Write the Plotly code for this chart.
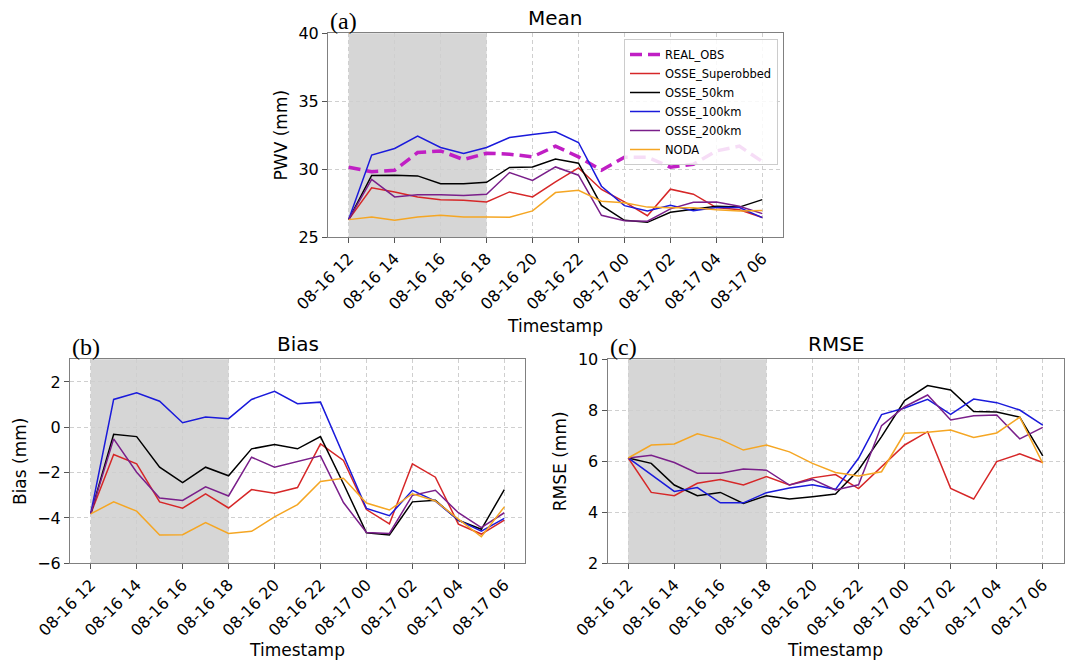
import plotly.graph_objects as go

# ---------------- data ----------------
timestamps = [
    "2024-08-16 12:00", "2024-08-16 13:00", "2024-08-16 14:00", "2024-08-16 15:00",
    "2024-08-16 16:00", "2024-08-16 17:00", "2024-08-16 18:00", "2024-08-16 19:00",
    "2024-08-16 20:00", "2024-08-16 21:00", "2024-08-16 22:00", "2024-08-16 23:00",
    "2024-08-17 00:00", "2024-08-17 01:00", "2024-08-17 02:00", "2024-08-17 03:00",
    "2024-08-17 04:00", "2024-08-17 05:00", "2024-08-17 06:00",
]

series_names = ["OSSE_Superobbed", "OSSE_50km", "OSSE_100km", "OSSE_200km", "NODA"]
series_colors = ["#d62728", "#000000", "#1a1adb", "#7a1f8a", "#f5a623"]

mean_real_obs = [30.14, 29.80, 29.92, 31.22, 31.34, 30.70, 31.17, 31.10, 30.90, 31.69,
                 30.90, 29.92, 30.88, 30.88, 30.14, 30.36, 31.34, 31.69, 30.55]
mean_superobbed = [26.28, 28.62, 28.32, 27.95, 27.75, 27.70, 27.58, 28.32, 27.95, 29.06,
                   30.09, 28.50, 27.58, 26.57, 28.52, 28.15, 27.17, 27.00, 26.43]
mean_50km = [26.28, 29.53, 29.55, 29.50, 28.93, 28.93, 29.03, 30.12, 30.16, 30.75,
             30.43, 27.33, 26.23, 26.08, 26.82, 27.04, 27.26, 27.20, 27.75]
mean_100km = [26.28, 31.03, 31.52, 32.43, 31.59, 31.15, 31.59, 32.33, 32.55, 32.75,
              31.96, 28.74, 27.31, 26.92, 27.33, 26.94, 27.17, 27.17, 26.43]
mean_200km = [26.28, 29.25, 27.95, 28.12, 28.12, 28.05, 28.15, 29.75, 29.16, 30.16,
              29.55, 26.60, 26.20, 26.16, 27.07, 27.56, 27.58, 27.26, 26.72]
mean_noda = [26.28, 26.48, 26.23, 26.48, 26.60, 26.48, 26.48, 26.45, 26.92, 28.27,
             28.44, 27.63, 27.53, 27.20, 27.16, 27.16, 27.00, 26.92, 26.96]

bias_superobbed = [-3.82, -1.20, -1.61, -3.29, -3.57, -2.94, -3.56, -2.75, -2.91, -2.66,
                   -0.73, -1.46, -3.63, -4.26, -1.61, -2.20, -4.27, -4.71, -4.10]
bias_50km = [-3.82, -0.31, -0.41, -1.76, -2.44, -1.76, -2.14, -0.95, -0.76, -0.95,
             -0.41, -2.49, -4.65, -4.75, -3.29, -3.22, -4.10, -4.50, -2.75]
bias_100km = [-3.82, 1.23, 1.52, 1.15, 0.20, 0.45, 0.38, 1.23, 1.59, 1.04,
              1.11, -1.25, -3.58, -3.90, -2.78, -3.26, -4.10, -4.58, -4.02]
bias_200km = [-3.82, -0.51, -1.98, -3.12, -3.23, -2.63, -3.03, -1.32, -1.76, -1.51,
              -1.26, -3.32, -4.64, -4.68, -3.00, -2.78, -3.77, -4.43, -3.77]
bias_noda = [-3.82, -3.29, -3.70, -4.75, -4.74, -4.20, -4.68, -4.59, -3.95, -3.41,
             -2.39, -2.25, -3.34, -3.65, -2.93, -3.25, -4.05, -4.83, -3.51]

rmse_superobbed = [6.13, 4.78, 4.65, 5.14, 5.29, 5.07, 5.40, 5.07, 5.35, 5.48,
                   4.93, 5.79, 6.64, 7.16, 4.94, 4.52, 5.99, 6.29, 5.95]
rmse_50km = [6.13, 5.92, 5.07, 4.65, 4.78, 4.35, 4.65, 4.52, 4.61, 4.72,
             5.66, 6.97, 8.38, 8.97, 8.80, 7.95, 7.93, 7.73, 6.21]
rmse_100km = [6.13, 5.46, 4.82, 4.97, 4.37, 4.37, 4.77, 4.95, 5.08, 4.90,
              6.12, 7.83, 8.09, 8.43, 7.84, 8.44, 8.30, 8.01, 7.42]
rmse_200km = [6.13, 6.24, 5.95, 5.53, 5.53, 5.70, 5.65, 5.07, 5.29, 4.88,
              5.08, 7.40, 8.14, 8.60, 7.62, 7.79, 7.82, 6.88, 7.33]
rmse_noda = [6.13, 6.64, 6.68, 7.08, 6.86, 6.44, 6.64, 6.37, 5.92, 5.56,
             5.42, 5.59, 7.10, 7.14, 7.23, 6.93, 7.11, 7.73, 5.92]

mean_series = [mean_superobbed, mean_50km, mean_100km, mean_200km, mean_noda]
bias_series = [bias_superobbed, bias_50km, bias_100km, bias_200km, bias_noda]
rmse_series = [rmse_superobbed, rmse_50km, rmse_100km, rmse_200km, rmse_noda]

shade_start = "2024-08-16 12:00"
shade_end = "2024-08-16 18:00"
x_range = ["2024-08-16 11:06", "2024-08-17 06:54"]

panel_titles = ["Mean", "Bias", "RMSE"]
panel_letters = ["(a)", "(b)", "(c)"]
y_titles = ["PWV (mm)", "Bias (mm)", "RMSE (mm)"]
y_ranges = [[25, 40], [-6, 3], [2, 10]]
y_dticks = [5, 2, 2]

# ---------------- figure ----------------
W, H = 1087, 660
FONT = "DejaVu Sans"

fig = go.Figure()

# Top panel traces
fig.add_trace(go.Scatter(x=timestamps, y=mean_real_obs, mode="lines", name="REAL_OBS",
                         line=dict(color="#c01fc4", width=3.5, dash="12px,6px"),
                         xaxis="x", yaxis="y"))
for name, col, ys in zip(series_names, series_colors, mean_series):
    fig.add_trace(go.Scatter(x=timestamps, y=ys, mode="lines", name=name,
                             line=dict(color=col, width=1.5), xaxis="x", yaxis="y"))
for name, col, ys in zip(series_names, series_colors, bias_series):
    fig.add_trace(go.Scatter(x=timestamps, y=ys, mode="lines", name=name, showlegend=False,
                             line=dict(color=col, width=1.5), xaxis="x2", yaxis="y2"))
for name, col, ys in zip(series_names, series_colors, rmse_series):
    fig.add_trace(go.Scatter(x=timestamps, y=ys, mode="lines", name=name, showlegend=False,
                             line=dict(color=col, width=1.5), xaxis="x3", yaxis="y3"))

def px_x(p):
    return p / W

def px_y(p):
    return 1 - p / H

domains = [
    ([px_x(328), px_x(783)], [px_y(237), px_y(33.3)]),
    ([px_x(70), px_x(525)], [px_y(563.3), px_y(359.3)]),
    ([px_x(607.5), px_x(1063.5)], [px_y(563.3), px_y(359.3)]),
]

axis_common = dict(
    showline=True, mirror=True, linecolor="#808080", linewidth=1,
    ticks="outside", ticklen=5, tickcolor="#555555", tickwidth=1,
    showgrid=True, gridcolor="#cfcfcf", griddash="4px,3px", gridwidth=0.8,
    zeroline=False, automargin=False,
    tickfont=dict(family=FONT, size=16, color="#000000"),
)

layout_axes = {}
for i, (xd, yd) in enumerate(domains):
    sfx = "" if i == 0 else str(i + 1)
    layout_axes["xaxis" + sfx] = dict(
        axis_common, domain=xd, anchor="y" + sfx, type="date",
        range=x_range, tickmode="linear", tick0="2024-08-16 12:00", dtick=7200000,
        tickformat="%m-%d %H", tickangle=-45,
        title=dict(text="Timestamp", font=dict(family=FONT, size=17, color="#000000")),
    )
    layout_axes["yaxis" + sfx] = dict(
        axis_common, domain=yd, anchor="x" + sfx, range=y_ranges[i],
        tickmode="linear", tick0=y_ranges[i][0], dtick=y_dticks[i],
        title=dict(text=y_titles[i], standoff=6,
                   font=dict(family=FONT, size=17, color="#000000")),
    )

shapes = []
annotations = []
for i, (xd, yd) in enumerate(domains):
    sfx = "" if i == 0 else str(i + 1)
    shapes.append(dict(type="rect", xref="x" + sfx, yref="y" + sfx + " domain",
                       x0=shade_start, x1=shade_end, y0=0, y1=1,
                       fillcolor="#d6d6d6", line=dict(width=0), layer="below"))
    annotations.append(dict(text=panel_titles[i], xref="paper", yref="paper",
                            x=(xd[0] + xd[1]) / 2, y=yd[1], xanchor="center", yanchor="bottom",
                            yshift=1, showarrow=False,
                            font=dict(family=FONT, size=20, color="#000000")))
    annotations.append(dict(text=panel_letters[i], xref="paper", yref="paper",
                            x=xd[0], y=yd[1], xanchor="left", yanchor="bottom",
                            yshift=-3, showarrow=False,
                            font=dict(family="Liberation Serif", size=24, color="#000000")))

fig.update_layout(
    width=W, height=H, template="none",
    margin=dict(l=0, r=0, t=0, b=0),
    paper_bgcolor="white", plot_bgcolor="white",
    font=dict(family=FONT, size=14, color="#000000"),
    showlegend=True,
    legend=dict(x=px_x(778), y=px_y(39), xanchor="right", yanchor="top",
                bgcolor="rgba(255,255,255,0.85)", bordercolor="#cccccc", borderwidth=1,
                font=dict(family=FONT, size=11.5, color="#000000"),
                tracegroupgap=0),
    shapes=shapes, annotations=annotations,
    **layout_axes,
)

fig.write_html(
    "out.html",
    config={"displayModeBar": False},
    post_script="document.body.style.margin='0';document.body.style.overflow='hidden';",
)
